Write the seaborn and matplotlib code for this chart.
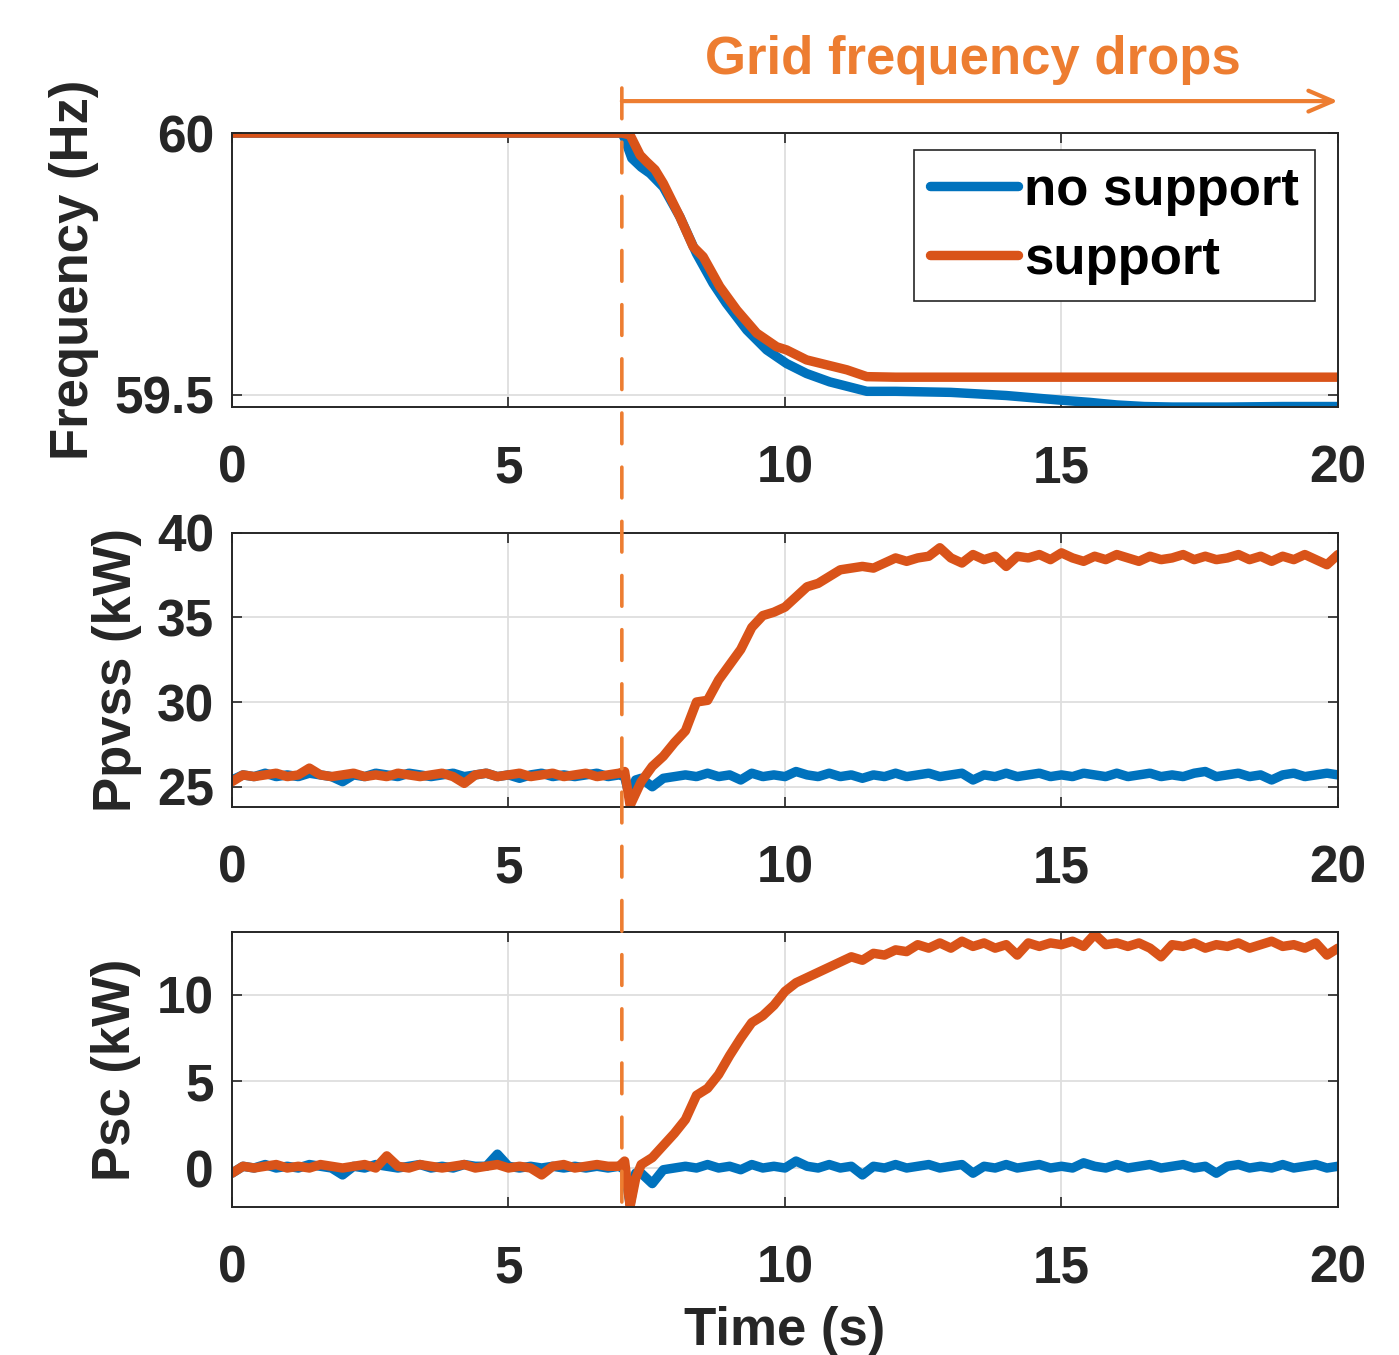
import numpy as np
import matplotlib
matplotlib.use("Agg")
import matplotlib.pyplot as plt
import seaborn as sns
from matplotlib.patches import ConnectionPatch

# ---------------- data ----------------
event_time = 7.05

freq_t_nosup = [0, 7.05, 7.1, 7.23, 7.4, 7.56, 7.8, 8.1, 8.4, 8.7, 8.94, 9.31, 9.67,
                10.03, 10.39, 10.81, 11.48, 12, 13, 14, 15, 15.5, 16, 16.5, 17, 18, 19, 20]
freq_nosup = [60.0, 60.0, 59.99, 59.952, 59.935, 59.923, 59.897, 59.84, 59.77, 59.713,
              59.675, 59.624, 59.586, 59.56, 59.541, 59.525, 59.507, 59.507, 59.505,
              59.499, 59.49, 59.486, 59.481, 59.478, 59.477, 59.477, 59.478, 59.478]

freq_t_sup = [0, 7.06, 7.2, 7.38, 7.5, 7.65, 7.8, 8.1, 8.34, 8.52, 8.82, 9.13, 9.49,
              9.85, 10.03, 10.39, 11.12, 11.48, 12, 14, 16, 18, 20]
freq_sup = [60.0, 60.0, 59.996, 59.958, 59.945, 59.93, 59.904, 59.84, 59.783, 59.764,
            59.707, 59.662, 59.618, 59.592, 59.586, 59.567, 59.548, 59.535, 59.534,
            59.534, 59.534, 59.534, 59.534]

power_t = np.round(np.concatenate([np.arange(0, 7.01, 0.2), [7.1, 7.2, 7.3],
                                   np.arange(7.4, 20.01, 0.2)]), 2)

ppvss_nosup = (
    [25.4, 25.7, 25.6, 25.8, 25.6, 25.7, 25.6, 25.8, 25.7, 25.6, 25.3, 25.7,
     25.6, 25.8, 25.7, 25.6, 25.8, 25.7, 25.6, 25.7, 25.8, 25.6, 25.7, 25.8,
     25.6, 25.7, 25.5, 25.7, 25.8, 25.6, 25.7, 25.6, 25.7, 25.8, 25.6, 25.7]
    + [25.6, 24.3, 25.4]
    + [25.5, 25.0, 25.5, 25.6, 25.7, 25.6, 25.8, 25.6, 25.7, 25.4, 25.8, 25.6,
       25.7, 25.6, 25.9, 25.7, 25.6, 25.8, 25.6, 25.7, 25.5, 25.7, 25.6, 25.8,
       25.6, 25.7, 25.8, 25.6, 25.7, 25.8, 25.4, 25.7, 25.6, 25.8, 25.6, 25.7,
       25.8, 25.6, 25.7, 25.6, 25.8, 25.7, 25.6, 25.8, 25.6, 25.7, 25.8, 25.6,
       25.7, 25.6, 25.8, 25.9, 25.6, 25.7, 25.8, 25.6, 25.7, 25.4, 25.7, 25.8,
       25.6, 25.7, 25.8, 25.7]
)
ppvss_sup = (
    [25.3, 25.7, 25.6, 25.7, 25.8, 25.6, 25.7, 26.1, 25.7, 25.6, 25.7, 25.8,
     25.6, 25.7, 25.6, 25.8, 25.7, 25.6, 25.7, 25.8, 25.6, 25.2, 25.7, 25.8,
     25.6, 25.7, 25.8, 25.6, 25.7, 25.8, 25.6, 25.7, 25.8, 25.6, 25.7, 25.8]
    + [25.9, 23.9, 24.6]
    + [25.3, 26.2, 26.8, 27.6, 28.3, 30.0, 30.1, 31.3, 32.2, 33.1, 34.4, 35.1,
       35.3, 35.6, 36.2, 36.8, 37.0, 37.4, 37.8, 37.9, 38.0, 37.9, 38.2, 38.5,
       38.3, 38.5, 38.6, 39.1, 38.5, 38.2, 38.7, 38.4, 38.6, 38.0, 38.6, 38.5,
       38.7, 38.4, 38.8, 38.5, 38.3, 38.6, 38.4, 38.7, 38.5, 38.3, 38.6, 38.4,
       38.5, 38.7, 38.4, 38.6, 38.4, 38.5, 38.7, 38.4, 38.6, 38.3, 38.6, 38.4,
       38.7, 38.4, 38.1, 38.7]
)

psc_nosup = (
    [-0.3, 0.1, 0.0, 0.2, 0.0, 0.1, 0.0, 0.2, 0.1, 0.0, -0.4, 0.1,
     0.0, 0.2, 0.1, 0.0, 0.1, 0.2, 0.0, 0.1, 0.0, 0.2, 0.1, 0.1,
     0.8, 0.1, 0.0, 0.1, 0.0, 0.1, 0.0, 0.1, 0.0, 0.1, 0.0, 0.1]
    + [-0.1, -2.1, -0.3]
    + [-0.3, -0.9, -0.1, 0.0, 0.1, 0.0, 0.2, 0.0, 0.1, -0.1, 0.2, 0.0,
       0.1, 0.0, 0.4, 0.1, 0.0, 0.2, 0.0, 0.1, -0.4, 0.1, 0.0, 0.2,
       0.0, 0.1, 0.2, 0.0, 0.1, 0.2, -0.3, 0.1, 0.0, 0.2, 0.0, 0.1,
       0.2, 0.0, 0.1, 0.0, 0.3, 0.1, 0.0, 0.2, 0.0, 0.1, 0.2, 0.0,
       0.1, 0.2, 0.0, 0.1, -0.3, 0.1, 0.2, 0.0, 0.1, 0.0, 0.2, 0.0,
       0.1, 0.2, 0.0, 0.1]
)
psc_sup = (
    [-0.3, 0.1, 0.0, 0.1, 0.2, 0.0, 0.1, 0.0, 0.2, 0.1, 0.0, 0.1,
     0.2, 0.0, 0.7, 0.1, 0.0, 0.2, 0.1, 0.0, 0.1, 0.2, 0.0, 0.1,
     0.2, 0.0, 0.1, 0.0, -0.4, 0.1, 0.2, 0.0, 0.1, 0.2, 0.1, 0.1]
    + [0.4, -2.2, -0.6]
    + [0.2, 0.6, 1.3, 2.0, 2.8, 4.2, 4.6, 5.4, 6.5, 7.5, 8.4, 8.8,
       9.4, 10.2, 10.7, 11.0, 11.3, 11.6, 11.9, 12.2, 12.0, 12.4, 12.3, 12.6,
       12.5, 12.9, 12.7, 13.0, 12.7, 13.1, 12.8, 13.0, 12.7, 12.9, 12.3, 13.0,
       12.8, 13.0, 12.9, 13.1, 12.8, 13.5, 12.9, 13.0, 12.8, 13.0, 12.7, 12.2,
       12.9, 12.8, 13.0, 12.7, 12.9, 12.8, 13.0, 12.7, 12.9, 13.1, 12.8, 12.9,
       12.7, 13.0, 12.3, 12.7]
)

series_labels = ["no support", "support"]
ylabels = ["Frequency (Hz)", "Ppvss (kW)", "Psc (kW)"]
xlabel_text = "Time (s)"
annotation_text = "Grid frequency drops"
xticks = [0, 5, 10, 15, 20]
freq_yticks = [59.5, 60]
freq_yticklabels = ["59.5", "60"]
ppvss_yticks = [25, 30, 35, 40]
psc_yticks = [0, 5, 10]

# ---------------- style ----------------
BLUE = "#0072BD"
ORANGE = "#D95319"
ANNOT = "#ED7D31"
AXC = "#262626"
LW = 6.8
line_kw = dict(solid_joinstyle="round", solid_capstyle="round")

sns.set_theme(style="ticks")
plt.rcParams["font.family"] = ["Liberation Sans", "DejaVu Sans"]
plt.rcParams["font.weight"] = "bold"
plt.rcParams["axes.labelweight"] = "bold"

fig = plt.figure(figsize=(13.99, 13.55), dpi=100)
left, width = 0.1658, 0.7906
ax1 = fig.add_axes([left, 0.6996, width, 0.2022])
ax2 = fig.add_axes([left, 0.4046, width, 0.2024])
ax3 = fig.add_axes([left, 0.1090, width, 0.2034])

sns.lineplot(x=freq_t_nosup, y=freq_nosup, ax=ax1, color=BLUE, linewidth=LW,
             label=series_labels[0], estimator=None, **line_kw)
sns.lineplot(x=freq_t_sup, y=freq_sup, ax=ax1, color=ORANGE, linewidth=LW,
             label=series_labels[1], estimator=None, **line_kw)

sns.lineplot(x=power_t, y=ppvss_nosup, ax=ax2, color=BLUE, linewidth=LW,
             legend=False, estimator=None, **line_kw)
sns.lineplot(x=power_t, y=ppvss_sup, ax=ax2, color=ORANGE, linewidth=LW,
             legend=False, estimator=None, **line_kw)

sns.lineplot(x=power_t, y=psc_nosup, ax=ax3, color=BLUE, linewidth=LW,
             legend=False, estimator=None, **line_kw)
sns.lineplot(x=power_t, y=psc_sup, ax=ax3, color=ORANGE, linewidth=LW,
             legend=False, estimator=None, **line_kw)

FS = 37
for ax, lab, lx in zip([ax1, ax2, ax3], ylabels, [-0.143, -0.1035, -0.105]):
    ax.set_xlim(0, 20)
    ax.set_xticks(xticks)
    ax.set_axisbelow(True)
    ax.grid(True, color="#DEDEDE", linewidth=1.3)
    ax.tick_params(direction="in", length=7, width=1.2, top=True, right=True,
                   colors=AXC, labelsize=FS)
    ax.tick_params(axis="x", pad=27)
    ax.tick_params(axis="y", pad=13)
    for s in ax.spines.values():
        s.set_color(AXC)
        s.set_linewidth(1.4)
    ax.set_xlabel("")
    ax.set_ylabel(lab, fontsize=38, color=AXC, va="center")
    ax.yaxis.set_label_coords(lx, 0.5)

ax1.set_ylim(59.477, 60.0)
ax1.set_yticks(freq_yticks)
ax1.set_yticklabels(freq_yticklabels)
ax2.set_ylim(23.82, 40)
ax2.set_yticks(ppvss_yticks)
ax3.set_ylim(-2.27, 13.65)
ax3.set_yticks(psc_yticks)

ax3.set_xlabel(xlabel_text, fontsize=38, color=AXC, va="top")
ax3.xaxis.set_label_coords(0.5, -0.357)

leg = ax1.legend(loc="upper right", bbox_to_anchor=(0.979, 0.938), borderaxespad=0,
                 fontsize=38, handlelength=1.67, handletextpad=0.12, borderpad=0.3,
                 labelspacing=0.36, fancybox=False, framealpha=1)
leg.get_frame().set_edgecolor(AXC)
leg.get_frame().set_linewidth(1.2)
for line in leg.get_lines():
    line.set_linewidth(LW)
for t in leg.get_texts():
    t.set_color("black")

# event marker: dashed line across all panels
dash_top = 60.086
con = ConnectionPatch(xyA=(event_time, dash_top), coordsA=ax1.transData,
                      xyB=(event_time, ax3.get_ylim()[0]), coordsB=ax3.transData,
                      color=ANNOT, linewidth=2.6, linestyle=(0, (8.5, 6.5)))
fig.add_artist(con)

arrow_y = 60.061
ax1.annotate("", xy=(20, arrow_y), xytext=(event_time, arrow_y),
             arrowprops=dict(arrowstyle="->,head_length=0.7,head_width=0.3",
                             color=ANNOT, lw=3, shrinkA=0, shrinkB=0,
                             mutation_scale=25),
             annotation_clip=False)
ax1.text(13.4, 60.1136, annotation_text, color=ANNOT, fontsize=38,
         fontweight="bold", ha="center", va="baseline", clip_on=False)

fig.savefig("out.png", dpi=100)
